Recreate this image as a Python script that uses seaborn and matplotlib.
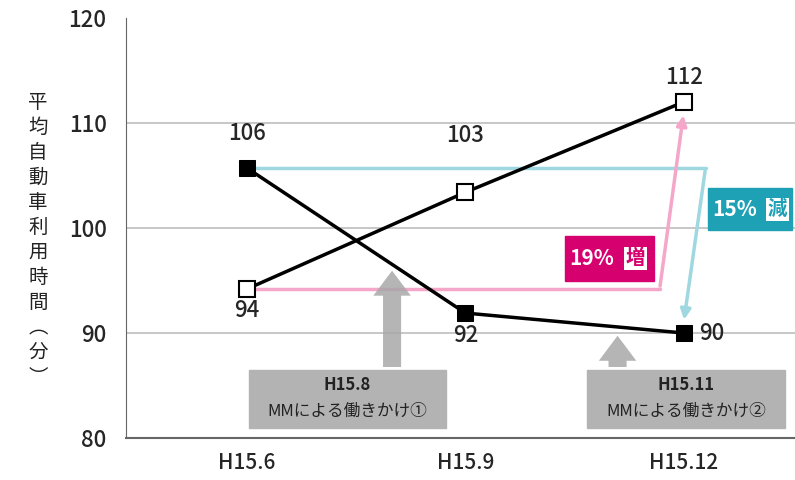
import matplotlib
matplotlib.use("Agg")
import matplotlib.pyplot as plt
from matplotlib.patches import Rectangle
import seaborn as sns

# data
periods = ["H15.6", "H15.9", "H15.12"]
filled_values = [105.7, 91.9, 90.0]
filled_labels = ["106", "92", "90"]
open_values = [94.2, 103.4, 112.0]
open_labels = ["94", "103", "112"]
ylabel_chars = ["平", "均", "自", "動", "車", "利", "用", "時", "間", "︵", "分", "︶"]

sns.set_style("white")
plt.rcParams['font.family'] = ['Noto Sans CJK JP', 'DejaVu Sans']

fig = plt.figure(figsize=(7.95, 4.8), dpi=100)
ax = fig.add_axes([126/795, 1 - 438/480, (795 - 126)/795, 420/480])

xs = list(range(len(periods)))
ax.set_xlim(-0.555, 2.51)
ax.set_ylim(80, 120)

for v in [90, 100, 110]:
    ax.axhline(v, color="#bdbdbd", lw=1.2, zorder=0)

teal = "#1ea0b5"
pink = "#d6006f"

# change arrows
ax.plot([0, 2.10], [filled_values[0], filled_values[0]], color="#9fd8e0", lw=2.5, zorder=1)
ax.annotate("", xy=(2.0, filled_values[2] + 1.0), xytext=(2.10, filled_values[0]),
            arrowprops=dict(arrowstyle="-|>", color="#9fd8e0", lw=2.5, mutation_scale=15), zorder=1)
ax.plot([0, 1.89], [open_values[0], open_values[0]], color="#f4a7c9", lw=2.5, zorder=1)
ax.annotate("", xy=(2.0, open_values[2] - 1.0), xytext=(1.89, open_values[0]),
            arrowprops=dict(arrowstyle="-|>", color="#f4a7c9", lw=2.5, mutation_scale=15), zorder=1)

# lines
sns.lineplot(x=xs, y=filled_values, marker="s", markersize=11, color="black",
             markerfacecolor="black", markeredgecolor="black", lw=2.5, ax=ax, zorder=3)
sns.lineplot(x=xs, y=open_values, marker="s", markersize=11, color="black",
             markerfacecolor="white", markeredgecolor="black", markeredgewidth=1.5,
             lw=2.5, ax=ax, zorder=3)

fs = 16
fw = "medium"
ax.text(xs[0], filled_values[0] + 2.2, filled_labels[0], ha="center", va="bottom", fontsize=fs, fontweight=fw)
ax.text(xs[1], filled_values[1] - 1.0, filled_labels[1], ha="center", va="top", fontsize=fs, fontweight=fw)
ax.text(xs[2] + 0.07, filled_values[2], filled_labels[2], ha="left", va="center", fontsize=fs, fontweight=fw)
ax.text(xs[0], open_values[0] - 1.0, open_labels[0], ha="center", va="top", fontsize=fs, fontweight=fw)
ax.text(xs[1], open_values[1] + 4.3, open_labels[1], ha="center", va="bottom", fontsize=fs, fontweight=fw)
ax.text(xs[2], open_values[2] + 1.2, open_labels[2], ha="center", va="bottom", fontsize=fs, fontweight=fw)

# percentage boxes
ax.add_patch(Rectangle((2.11, 99.8), 0.385, 4.0, color=teal, zorder=4, clip_on=False))
ax.text(2.13, 101.8, "15%", color="white", fontsize=15, fontweight="bold", ha="left", va="center", zorder=5)
ax.text(2.385, 101.8, "減", color=teal, fontsize=14, fontweight="bold", ha="left", va="center", zorder=5,
        bbox=dict(boxstyle="square,pad=0.1", fc="white", ec="none"))
ax.add_patch(Rectangle((1.454, 95.0), 0.41, 4.2, color=pink, zorder=4))
ax.text(1.475, 97.1, "19%", color="white", fontsize=15, fontweight="bold", ha="left", va="center", zorder=5)
ax.text(1.735, 97.1, "増", color=pink, fontsize=14, fontweight="bold", ha="left", va="center", zorder=5,
        bbox=dict(boxstyle="square,pad=0.1", fc="white", ec="none"))

# gray intervention boxes with arrows
gray = "#b3b3b3"
arrow_style = "simple,head_width=1.35,head_length=0.9,tail_width=0.65"
ax.annotate("", xy=(0.664, 96.2), xytext=(0.664, 86.5),
            arrowprops=dict(arrowstyle=arrow_style, color="#a8a8a8", alpha=0.85, lw=0,
                            mutation_scale=20), zorder=2)
ax.annotate("", xy=(1.697, 90.0), xytext=(1.697, 86.5),
            arrowprops=dict(arrowstyle=arrow_style, color="#a8a8a8", alpha=0.85, lw=0,
                            mutation_scale=20), zorder=2)
ax.add_patch(Rectangle((0.01, 81.0), 0.90, 5.5, color=gray, zorder=2))
ax.add_patch(Rectangle((1.556, 81.0), 0.91, 5.5, color=gray, zorder=2))
ax.text(0.46, 85.0, "H15.8", ha="center", va="center", fontsize=12, fontweight="bold", color="#222222", zorder=3)
ax.text(0.46, 82.5, "MMによる働きかけ①", ha="center", va="center", fontsize=12, color="#222222", zorder=3)
ax.text(2.01, 85.0, "H15.11", ha="center", va="center", fontsize=12, fontweight="bold", color="#222222", zorder=3)
ax.text(2.01, 82.5, "MMによる働きかけ②", ha="center", va="center", fontsize=12, color="#222222", zorder=3)

# axes styling
ax.set_xticks(xs)
ax.set_xticklabels(periods, fontsize=15, fontweight=fw)
ax.set_yticks([80, 90, 100, 110, 120])
ax.set_yticklabels(["80", "90", "100", "110", "120"], fontsize=16, fontweight=fw)
ax.tick_params(axis="y", direction="in", length=4, pad=14, color="#888888")
ax.tick_params(axis="x", length=0, pad=10)
for side in ["top", "right"]:
    ax.spines[side].set_visible(False)
ax.spines["left"].set_color("#666666")
ax.spines["bottom"].set_color("#666666")
ax.spines["bottom"].set_linewidth(1.5)

fig.text(38/795, 0.5, "\n".join(ylabel_chars), ha="center", va="center",
         fontsize=14, linespacing=1.25, color="#222222")

fig.savefig("out.png", dpi=100)
